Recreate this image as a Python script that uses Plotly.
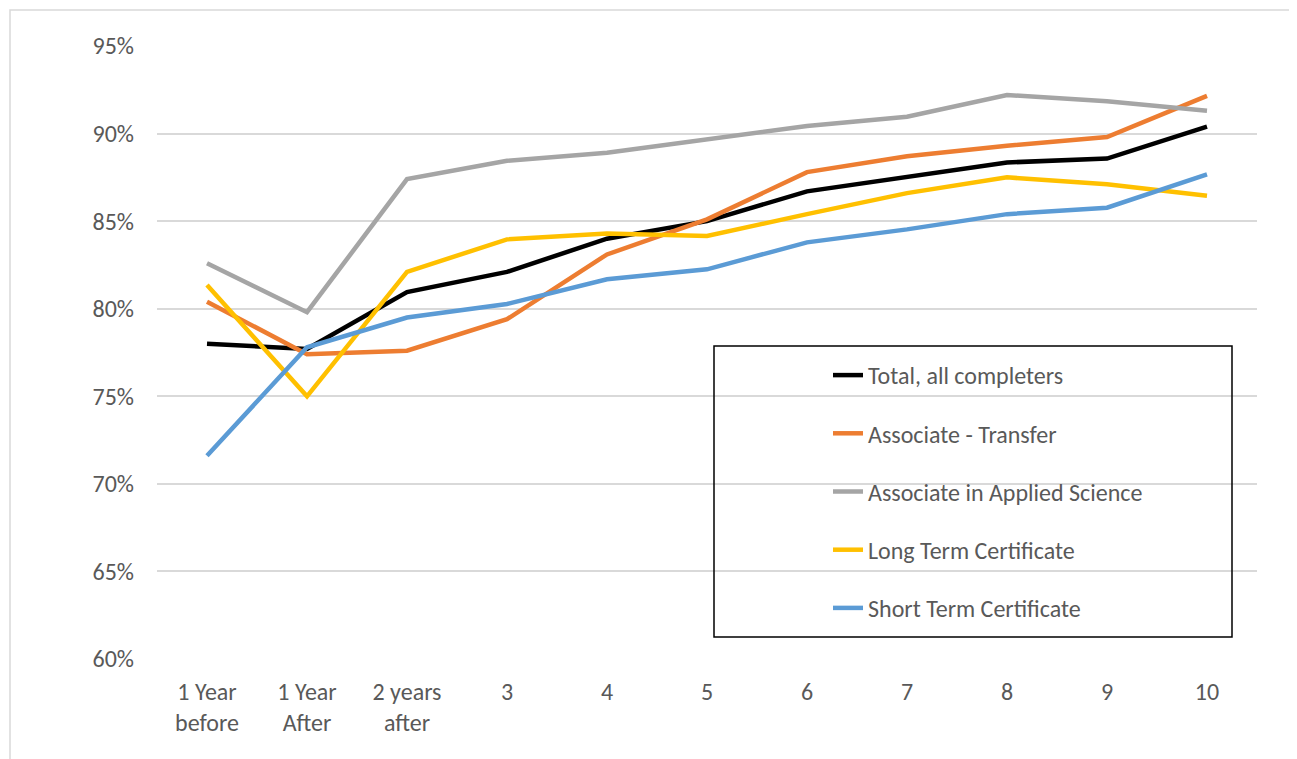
import plotly.graph_objects as go

categories = ["1 Year<br>before", "1 Year<br>After", "2 years<br>after", "3", "4", "5", "6", "7", "8", "9", "10"]

total = [0.780, 0.777, 0.8095, 0.821, 0.840, 0.850, 0.867, 0.875, 0.8835, 0.8857, 0.904]
assoc_transfer = [0.804, 0.774, 0.776, 0.794, 0.831, 0.851, 0.878, 0.887, 0.893, 0.898, 0.9215]
assoc_applied = [0.826, 0.798, 0.874, 0.8845, 0.889, 0.8965, 0.9043, 0.9096, 0.922, 0.9185, 0.913]
long_term = [0.8135, 0.750, 0.821, 0.8396, 0.843, 0.8415, 0.854, 0.866, 0.875, 0.871, 0.8645]
short_term = [0.716, 0.778, 0.795, 0.8027, 0.8168, 0.8225, 0.8379, 0.8453, 0.854, 0.8577, 0.8767]

series = [
    ("Total, all completers", total, "#000000"),
    ("Associate - Transfer", assoc_transfer, "#ED7D31"),
    ("Associate in Applied Science", assoc_applied, "#A5A5A5"),
    ("Long Term Certificate", long_term, "#FFC000"),
    ("Short Term Certificate", short_term, "#5B9BD5"),
]

FONT = "Calibri, Carlito, 'Liberation Sans Narrow', 'Open Sans', sans-serif"

fig = go.Figure()
for i, (name, vals, color) in enumerate(series):
    fig.add_trace(go.Scatter(
        x=categories, y=vals, name=name, mode="lines",
        line=dict(color=color, width=4.5),
        legendgroup=f"g{i}",
    ))

W, H = 1297, 759
OFF = 8  # page offset of the rendered figure
PL, PT, PW, PH = 157, 46, 1100, 613  # target plot area in screenshot pixels
L, T = PL - OFF, PT - OFF
R = W - L - PW
B = H - T - PH

def px(x):
    return (x - PL) / PW

def py(y):
    return (PT + PH - y) / PH

fig.update_layout(
    width=W, height=H,
    margin=dict(l=L, r=R, t=T, b=B),
    paper_bgcolor="white", plot_bgcolor="white",
    font=dict(family=FONT, size=24, color="#595959"),
    showlegend=True,
    legend=dict(
        x=px(828), y=py(353), xanchor="left", yanchor="top",
        bgcolor="rgba(0,0,0,0)", borderwidth=0,
        traceorder="grouped", tracegroupgap=24,
        font=dict(family=FONT, size=24, color="#595959"),
    ),
    xaxis=dict(
        type="category", range=[-0.5, 10.5],
        showgrid=False, zeroline=False, showline=False,
        ticks="", ticklabelstandoff=16,
        tickfont=dict(size=24, color="#595959"),
    ),
    yaxis=dict(
        range=[0.60, 0.95], dtick=0.05, tickformat=".0%",
        showgrid=True, gridcolor="#D9D9D9", gridwidth=1.5,
        zeroline=False, showline=False, ticks="",
        ticklabelstandoff=22,
        tickfont=dict(size=24, color="#595959"),
    ),
    shapes=[
        dict(type="rect", xref="paper", yref="paper",
             x0=px(714), x1=px(1232), y0=py(637), y1=py(346),
             line=dict(color="#000000", width=1.5), fillcolor="rgba(0,0,0,0)",
             layer="above"),
        dict(type="rect", xref="paper", yref="paper",
             x0=px(10), x1=px(1293), y0=py(780), y1=py(10),
             line=dict(color="#D9D9D9", width=1.5), fillcolor="rgba(0,0,0,0)",
             layer="below"),
    ],
)

fig.write_html("out.html")
